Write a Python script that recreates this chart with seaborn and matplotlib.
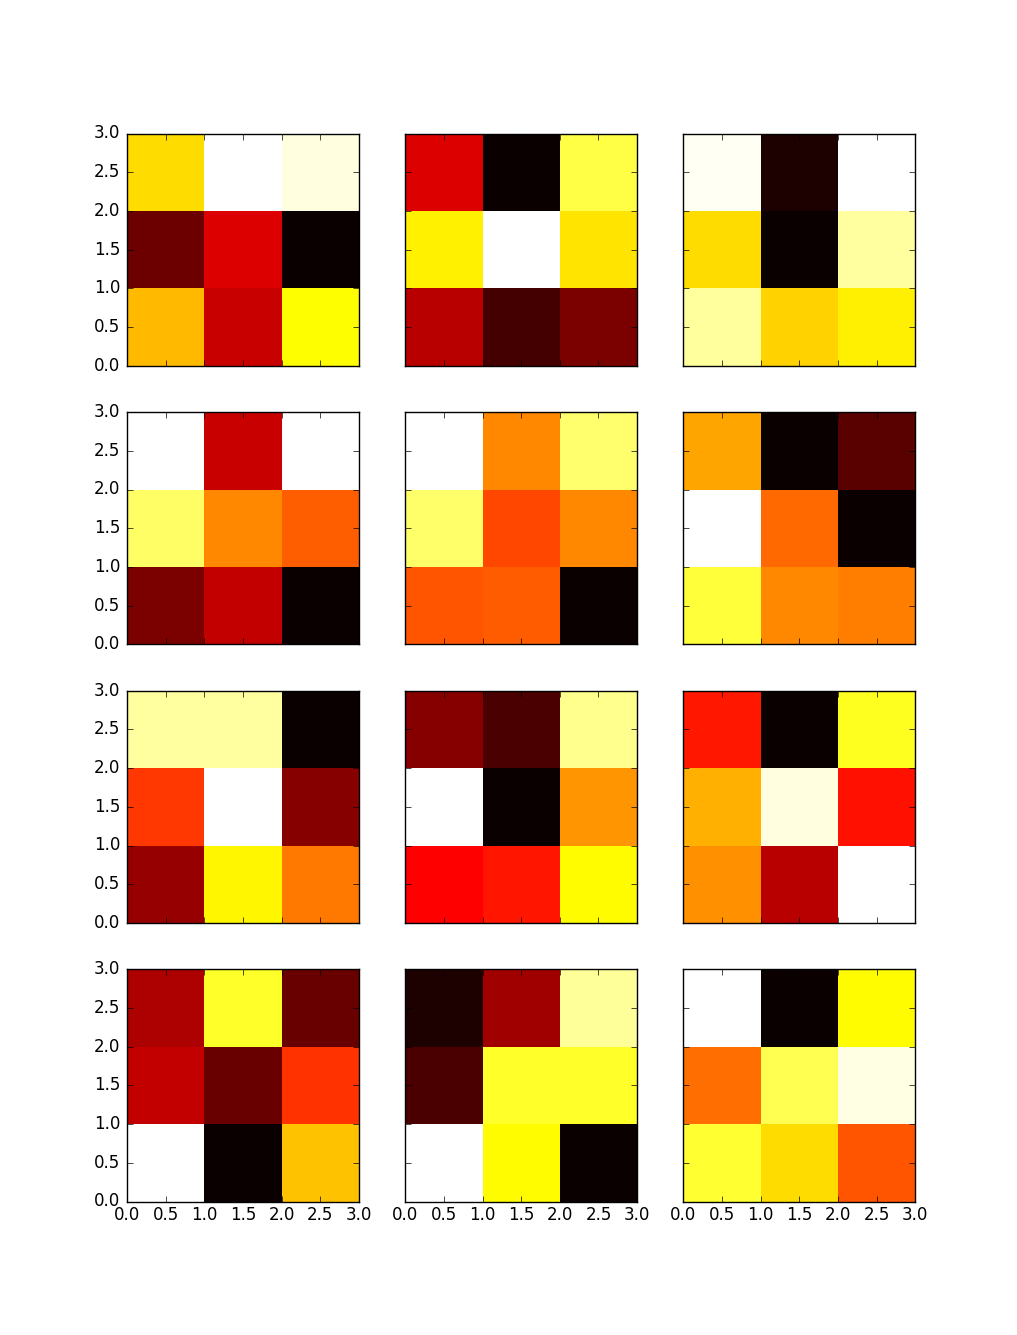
import numpy as np
import matplotlib
matplotlib.use("Agg")
import matplotlib.pyplot as plt
import seaborn as sns

# Each panel: rows listed from bottom (y 0-1) to top (y 2-3), columns x 0-1, 1-2, 2-3
panel_r0c0 = [[0.641, 0.283, 0.746],
              [0.148, 0.313, 0.000],
              [0.694, 1.000, 0.965]]
panel_r0c1 = [[0.260, 0.089, 0.171],
              [0.723, 1.000, 0.706],
              [0.313, 0.000, 0.816]]
panel_r0c2 = [[0.900, 0.679, 0.721],
              [0.694, 0.000, 0.905],
              [0.985, 0.029, 1.000]]
panel_r1c0 = [[0.171, 0.276, 0.000],
              [0.845, 0.567, 0.507],
              [1.000, 0.283, 0.998]]
panel_r1c1 = [[0.492, 0.500, 0.000],
              [0.850, 0.470, 0.567],
              [1.000, 0.567, 0.855]]
panel_r1c2 = [[0.801, 0.567, 0.552],
              [1.000, 0.521, 0.002],
              [0.611, 0.000, 0.118]]
panel_r2c0 = [[0.208, 0.732, 0.544],
              [0.447, 1.000, 0.186],
              [0.905, 0.905, 0.000]]
panel_r2c1 = [[0.365, 0.395, 0.739],
              [1.000, 0.000, 0.589],
              [0.186, 0.096, 0.885]]
panel_r2c2 = [[0.582, 0.260, 1.000],
              [0.627, 0.965, 0.387],
              [0.402, 0.000, 0.776]]
panel_r3c0 = [[1.000, 0.000, 0.656],
              [0.276, 0.141, 0.440],
              [0.245, 0.786, 0.141]]
panel_r3c1 = [[1.000, 0.739, 0.000],
              [0.096, 0.786, 0.786],
              [0.029, 0.223, 0.895]]
panel_r3c2 = [[0.796, 0.694, 0.492],
              [0.530, 0.826, 0.970],
              [1.000, 0.000, 0.739]]

panels = [[panel_r0c0, panel_r0c1, panel_r0c2],
          [panel_r1c0, panel_r1c1, panel_r1c2],
          [panel_r2c0, panel_r2c1, panel_r2c2],
          [panel_r3c0, panel_r3c1, panel_r3c2]]

tick_values = [0.0, 0.5, 1.0, 1.5, 2.0, 2.5, 3.0]
tick_labels = ["0.0", "0.5", "1.0", "1.5", "2.0", "2.5", "3.0"]

plt.style.use("classic")
plt.rcParams["font.family"] = ["DejaVu Sans"]

fig, axes = plt.subplots(4, 3, figsize=(10.17, 13.35), dpi=100)
fig.subplots_adjust(left=0.125, right=0.9, bottom=0.1, top=0.9, wspace=0.2, hspace=0.2)

for r in range(4):
    for c in range(3):
        ax = axes[r, c]
        data = np.array(panels[r][c])
        sns.heatmap(data, cmap="hot", cbar=False, ax=ax)
        ax.set_xlim(0, 3)
        ax.set_ylim(0, 3)
        for s in ax.spines.values():
            s.set_visible(True)
            s.set_color("black")
            s.set_linewidth(1.0)
        ax.set_xticks(tick_values)
        ax.set_yticks(tick_values)
        ax.set_xticklabels(tick_labels, rotation=0)
        ax.set_yticklabels(tick_labels, rotation=0, va="center")
        ax.tick_params(direction="in", top=True, right=True, length=4,
                       labelsize=12)
        ax.tick_params(axis="x", pad=3.5)
        ax.tick_params(axis="y", pad=5)
        if c > 0:
            ax.tick_params(labelleft=False)
        if r < 3:
            ax.tick_params(labelbottom=False)
        ax.set_xlabel("")
        ax.set_ylabel("")

fig.savefig("out.png", dpi=100)
